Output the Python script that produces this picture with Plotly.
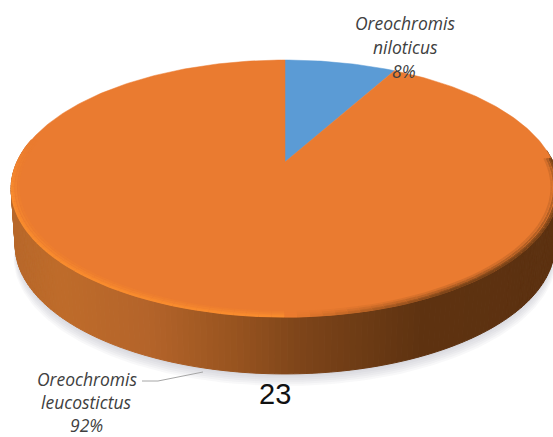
import numpy as np
import plotly.graph_objects as go

species_top = ["Oreochromis", "niloticus"]
species_bottom = ["Oreochromis", "leucostictus"]
values = [8, 92]
value_labels = ["8%", "92%"]
slice_colors = ["#5B9BD5", "#EA7B30"]
page_number = "23"

W, H = 553, 437
CX, CY = 285, 162
RX, RY, K = 268.0, 123.0, 0.206
WALL = 57.0


def top(theta, rad=1.0):
    X, Y = rad * np.sin(theta), rad * np.cos(theta)
    d = 1 + K * Y
    return CX + RX * X / d, CY - RY * Y / d


def bottom(theta, scale=0.985):
    x, y = top(theta)
    return CX + (x - CX) * scale, y + WALL


def hex_rgb(c):
    return np.array([int(c[i:i + 2], 16) for i in (1, 3, 5)], float)


def mix(a, b, t):
    return "rgb(%d,%d,%d)" % tuple(hex_rgb(a) * (1 - t) + hex_rgb(b) * t)


WALL_STOPS_X = [10, 60, 150, 230, 300, 360, 420, 560]
WALL_STOPS_RGB = np.array([hex_rgb(c) for c in
                           ["#B8682A", "#BF6C2B", "#B4642A", "#9A5520", "#7E451A", "#6E3C15", "#5F3311", "#5C3110"]])


def wall_color(x):
    return "rgb(%d,%d,%d)" % tuple(np.interp(x, WALL_STOPS_X, WALL_STOPS_RGB[:, i]) for i in range(3))


fig = go.Figure()

# soft shadow beneath the disc
full = np.linspace(0, 2 * np.pi, 241)
for off, sc in [(12, 1.006), (10, 1.004), (8, 1.002), (6, 1.0), (4, 0.998), (2, 0.996)]:
    bx, by = bottom(full)
    fig.add_trace(go.Scatter(x=CX + (bx - CX) * sc, y=by + off, mode="lines", fill="toself",
                             fillcolor="rgba(130,135,150,0.06)", line=dict(width=0), hoverinfo="skip"))

# side wall
edges = np.linspace(np.pi * 0.47, np.pi * 1.55, 181)
for a, b in zip(edges[:-1], edges[1:]):
    ts = np.array([a, b])
    x1, y1 = top(ts)
    x2, y2 = bottom(ts[::-1])
    col = wall_color(x1.mean())
    fig.add_trace(go.Scatter(x=np.r_[x1, x2, x1[0]], y=np.r_[y1, y2, y1[0]], mode="lines", fill="toself",
                             fillcolor=col, line=dict(color=col, width=1), hoverinfo="skip"))

# top face slices, from the values
total = sum(values)
start = 0.0
for val, col in zip(values, slice_colors):
    end = start + val / total * 2 * np.pi
    th = np.linspace(start, end, max(int(val * 4), 30))
    x, y = top(th)
    fig.add_trace(go.Scatter(x=np.r_[CX, x, CX], y=np.r_[CY, y, CY], mode="lines", fill="toself",
                             fillcolor=col, line=dict(color=col, width=0.5), hoverinfo="skip"))
    start = end

# bevel along the rim of the face
FACE = slice_colors[1]
rim_edges = np.linspace(np.pi * 0.49, np.pi * 1.56, 89)
for a, b in zip(rim_edges[:-1], rim_edges[1:]):
    m = (a + b) / 2
    ts = np.array([a, b])
    mx, _ = top(m)
    if m > np.pi * 1.42:
        rim = tuple(hex_rgb("#F98C2E") * (1 - (m - np.pi * 1.42) / (np.pi * 0.14))
                    + hex_rgb(FACE) * ((m - np.pi * 1.42) / (np.pi * 0.14)))
    elif mx < CX:
        rim = tuple(hex_rgb("#F98C2E"))
    else:
        f = min(1.0, (mx - CX) / 170)
        rim = tuple(hex_rgb("#F07F30") * (1 - f) + hex_rgb("#7A4318") * f)
    rim_hex = "#%02X%02X%02X" % tuple(int(v) for v in rim)
    for rad, t in [(0.974, 0.2), (0.983, 0.5), (0.992, 0.8), (0.998, 1.0)]:
        x, y = top(ts, rad)
        fig.add_trace(go.Scatter(x=x, y=y, mode="lines", line=dict(color=mix(FACE, rim_hex, t), width=2),
                                 hoverinfo="skip"))

# leader line
fig.add_trace(go.Scatter(x=[142, 158, 203], y=[381, 381, 372], mode="lines",
                         line=dict(color="#A6A6A6", width=1), hoverinfo="skip"))

TXT = dict(family="Open Sans", size=17.5, color="#404040", style="italic")
notes = [(species_top[0], 405, 23), (species_top[1], 405, 47), (value_labels[0], 404, 71),
         (species_bottom[0], 87, 379), (species_bottom[1], 86, 402), (value_labels[1], 86, 425)]
annotations = [dict(text=t, x=x, y=y, xref="x", yref="y", showarrow=False, font=TXT,
                    xanchor="center", yanchor="middle") for t, x, y in notes]
annotations.append(dict(text=page_number, x=275, y=394, xref="x", yref="y", showarrow=False,
                        font=dict(family="Liberation Sans", size=29, color="#111111"),
                        xanchor="center", yanchor="middle"))

fig.update_layout(width=W, height=H, margin=dict(l=0, r=0, t=0, b=0), showlegend=False,
                  paper_bgcolor="white", plot_bgcolor="white", hovermode=False, annotations=annotations,
                  xaxis=dict(range=[0, W], visible=False, fixedrange=True),
                  yaxis=dict(range=[H, 0], visible=False, fixedrange=True))

fig.write_html("out.html", config=dict(displayModeBar=False),
               post_script="document.body.style.margin='0';document.documentElement.style.overflow='hidden';")
